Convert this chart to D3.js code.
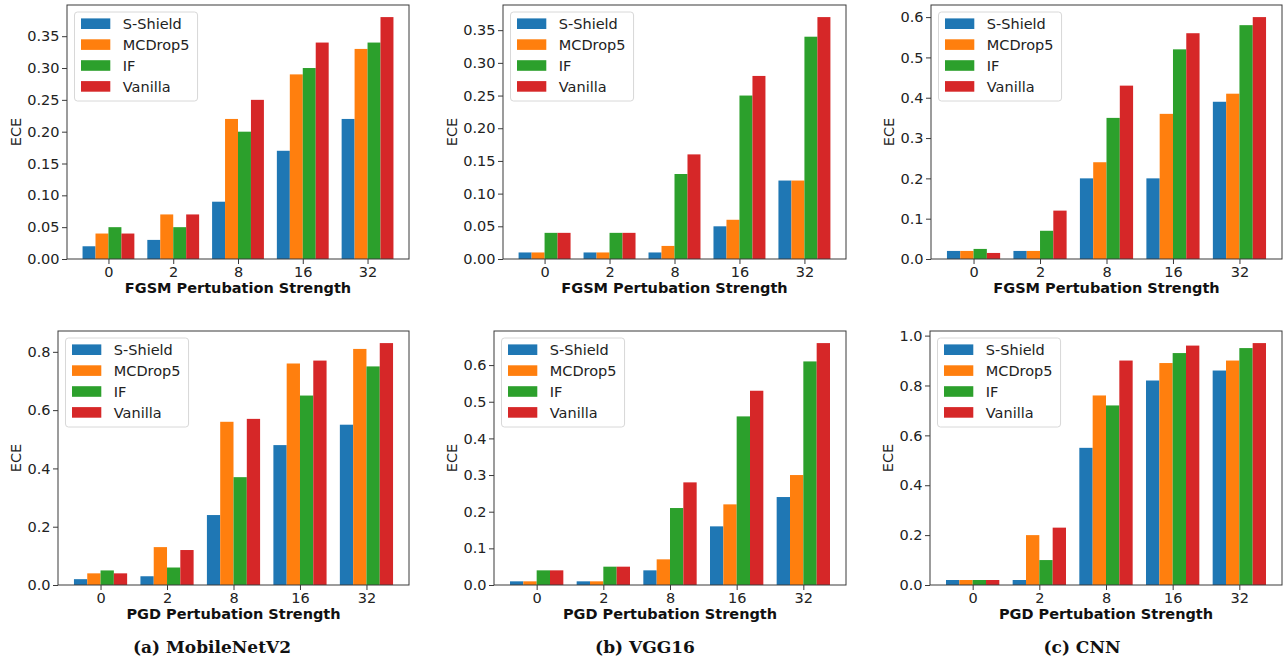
<!DOCTYPE html>
<html>
<head>
<meta charset="utf-8">
<script src="https://cdn.jsdelivr.net/npm/d3@7"></script>
<style>
  body { margin: 0; background: #fff; }
  svg { display: block; }
</style>
</head>
<body>
<div class="figure"></div>
<script>
const strengths = ['0', '2', '8', '16', '32']
const methods = ['S-Shield', 'MCDrop5', 'IF', 'Vanilla']
const colors = ['#1f77b4', '#ff7f0e', '#2ca02c', '#d62728']

// rows = methods (S-Shield, MCDrop5, IF, Vanilla), columns = strengths
const mobileFgsm = [
    [0.02, 0.03, 0.09, 0.17, 0.22],
    [0.04, 0.07, 0.22, 0.29, 0.33],
    [0.05, 0.05, 0.20, 0.30, 0.34],
    [0.04, 0.07, 0.25, 0.34, 0.38]
]
const vggFgsm = [
    [0.01, 0.01, 0.01, 0.05, 0.12],
    [0.01, 0.01, 0.02, 0.06, 0.12],
    [0.04, 0.04, 0.13, 0.25, 0.34],
    [0.04, 0.04, 0.16, 0.28, 0.37]
]
const cnnFgsm = [
    [0.02, 0.02, 0.20, 0.20, 0.39],
    [0.02, 0.02, 0.24, 0.36, 0.41],
    [0.025, 0.07, 0.35, 0.52, 0.58],
    [0.015, 0.12, 0.43, 0.56, 0.60]
]
const mobilePgd = [
    [0.02, 0.03, 0.24, 0.48, 0.55],
    [0.04, 0.13, 0.56, 0.76, 0.81],
    [0.05, 0.06, 0.37, 0.65, 0.75],
    [0.04, 0.12, 0.57, 0.77, 0.83]
]
const vggPgd = [
    [0.01, 0.01, 0.04, 0.16, 0.24],
    [0.01, 0.01, 0.07, 0.22, 0.30],
    [0.04, 0.05, 0.21, 0.46, 0.61],
    [0.04, 0.05, 0.28, 0.53, 0.66]
]
const cnnPgd = [
    [0.02, 0.02, 0.55, 0.82, 0.86],
    [0.02, 0.20, 0.76, 0.89, 0.90],
    [0.02, 0.10, 0.72, 0.93, 0.95],
    [0.02, 0.23, 0.90, 0.96, 0.97]
]

// y tick labels
const ticksSmall = ['0.00', '0.05', '0.10', '0.15', '0.20', '0.25', '0.30', '0.35']
const ticksTenth = ['0.0', '0.1', '0.2', '0.3', '0.4', '0.5', '0.6']
const ticksPgdA = ['0.0', '0.2', '0.4', '0.6', '0.8']
const ticksPgdC = ['0.0', '0.2', '0.4', '0.6', '0.8', '1.0']

const captions = ['(a) MobileNetV2', '(b) VGG16', '(c) CNN']

const width = 1286
const height = 660
const fontSans = 'DejaVu Sans'
const fontSize = 14.5

const panels = [
    {data: mobileFgsm, ticks: ticksSmall, xlabel: 'FGSM Pertubation Strength', left: 67, top: 5, right: 409, bottom: 259},
    {data: vggFgsm, ticks: ticksSmall, xlabel: 'FGSM Pertubation Strength', left: 503, top: 5, right: 846, bottom: 259},
    {data: cnnFgsm, ticks: ticksTenth, xlabel: 'FGSM Pertubation Strength', left: 931, top: 5, right: 1282, bottom: 259},
    {data: mobilePgd, ticks: ticksPgdA, xlabel: 'PGD Pertubation Strength', left: 58, top: 331, right: 409, bottom: 585},
    {data: vggPgd, ticks: ticksTenth, xlabel: 'PGD Pertubation Strength', left: 494, top: 331, right: 846, bottom: 585},
    {data: cnnPgd, ticks: ticksPgdC, xlabel: 'PGD Pertubation Strength', left: 930, top: 331, right: 1282, bottom: 585}
]
const captionX = [212, 645, 1082]

const svg = d3.select('.figure')
    .append('svg')
    .attr('width', width)
    .attr('height', height)
    .style('background', '#fff')

const barW = 0.2

panels.forEach(p => {
    const g = svg.append('g')

    const maxVal = d3.max(p.data, row => d3.max(row))
    // matplotlib style margins: 5% on top, bars span -0.4..4.4 plus 5%
    const x = d3.scaleLinear()
        .domain([-0.64, strengths.length - 1 + 0.64])
        .range([p.left, p.right])
    const y = d3.scaleLinear()
        .domain([0, maxVal * 1.05])
        .range([p.bottom, p.top])

    // bars
    methods.forEach((m, j) => {
        g.append('g')
            .selectAll('rect')
            .data(p.data[j])
            .enter()
            .append('rect')
            .attr('x', (d, i) => x(i + (j - 1.5) * barW - barW / 2))
            .attr('width', x(barW) - x(0))
            .attr('y', d => y(d))
            .attr('height', d => y(0) - y(d))
            .attr('fill', colors[j])
    })

    // frame
    g.append('rect')
        .attr('x', p.left)
        .attr('y', p.top)
        .attr('width', p.right - p.left)
        .attr('height', p.bottom - p.top)
        .attr('fill', 'none')
        .attr('stroke', '#3a3a3a')
        .attr('stroke-width', 1)

    // y axis
    const yAxis = d3.axisLeft(y)
        .tickValues(p.ticks.map(Number))
        .tickFormat((d, i) => p.ticks[i])
        .tickSize(5)
        .tickPadding(2.5)
    const yg = g.append('g')
        .attr('transform', `translate(${p.left},0)`)
        .call(yAxis)
    yg.select('.domain').remove()

    // x axis
    const xAxis = d3.axisBottom(x)
        .tickValues(d3.range(strengths.length))
        .tickFormat(i => strengths[i])
        .tickSize(5)
        .tickPadding(2.5)
    const xg = g.append('g')
        .attr('transform', `translate(0,${p.bottom})`)
        .call(xAxis)
    xg.select('.domain').remove()

    g.selectAll('.tick line').attr('stroke', '#3a3a3a')
    g.selectAll('.tick text')
        .attr('fill', '#222')
        .style('font-family', fontSans)
        .style('font-size', fontSize + 'px')

    // axis labels
    g.append('text')
        .attr('x', (p.left + p.right) / 2)
        .attr('y', p.bottom + 34)
        .attr('text-anchor', 'middle')
        .style('font-family', fontSans)
        .style('font-size', fontSize + 'px')
        .style('font-weight', 'bold')
        .attr('fill', '#111')
        .text(p.xlabel)

    // tick box is local to the axis group, shift by its translate
    const tickBox = yg.node().getBBox()
    g.append('text')
        .attr('transform', `translate(${p.left + tickBox.x - 6},${(p.top + p.bottom) / 2}) rotate(-90)`)
        .attr('text-anchor', 'middle')
        .style('font-family', fontSans)
        .style('font-size', fontSize + 'px')
        .attr('fill', '#222')
        .text('ECE')

    // legend
    const lx = p.left + 7.5
    const ly = p.top + 7
    const leg = g.append('g')
    const box = leg.append('rect')
        .attr('x', lx)
        .attr('y', ly)
        .attr('height', 89)
        .attr('rx', 3)
        .attr('fill', '#fff')
        .attr('fill-opacity', 0.8)
        .attr('stroke', '#d8d8d8')
        .attr('stroke-width', 1)

    const rows = leg.selectAll('.row')
        .data(methods)
        .enter()
        .append('g')
        .attr('class', 'row')
        .attr('transform', (d, i) => `translate(${lx},${ly + 11.7 + i * 20.9})`)
    rows.append('rect')
        .attr('x', 6.5)
        .attr('y', -5.3)
        .attr('width', 29.3)
        .attr('height', 10.6)
        .attr('fill', (d, i) => colors[i])
    const labels = rows.append('text')
        .attr('x', 48.3)
        .attr('y', 5.2)
        .style('font-family', fontSans)
        .style('font-size', fontSize + 'px')
        .attr('fill', '#222')
        .text(d => d)
    const maxText = d3.max(labels.nodes(), n => n.getComputedTextLength())
    box.attr('width', 48.3 + maxText + 8)
})

// captions under each column
svg.selectAll('.caption')
    .data(captions)
    .enter()
    .append('text')
    .attr('class', 'caption')
    .attr('x', (d, i) => captionX[i])
    .attr('y', 652.5)
    .attr('text-anchor', 'middle')
    .style('font-family', 'DejaVu Serif')
    .style('font-size', '17px')
    .style('font-weight', 'bold')
    .attr('fill', '#111')
    .text(d => d)
</script>
</body>
</html>
